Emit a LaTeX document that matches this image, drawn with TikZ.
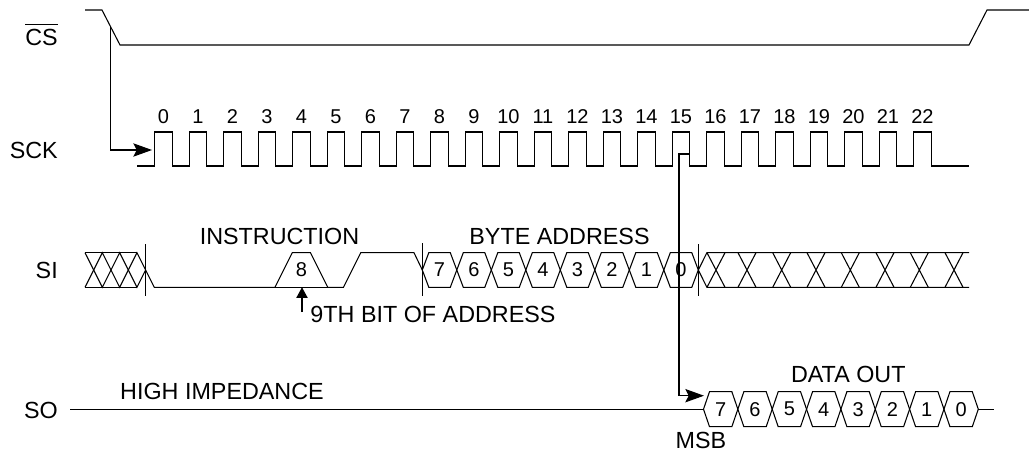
\documentclass[tikz,border=0pt]{standalone}
\usepackage{fontspec}
\setmainfont{Liberation Sans}
\usetikzlibrary{arrows.meta}
\tikzset{
  sig/.style={line width=0.8pt, line join=miter},
  lbl/.style={inner sep=0pt, font=\fontsize{17.5}{20}\selectfont},
  num/.style={inner sep=0pt, font=\fontsize{15}{18}\selectfont},
  bigtip/.style={-{Stealth[length=14pt,width=10pt,inset=2.5pt]}},
  smalltip/.style={-{Triangle[length=8pt,width=8.5pt]}},
}
\def\siT{252.7}
\def\siB{287.3}
\def\siM{270}
\def\soT{391.7}
\def\soB{426.7}
\def\soM{409.2}
\begin{document}
\begin{tikzpicture}[x=0.75pt,y=-0.75pt]
\useasboundingbox (0,0) rectangle (1029,453);

% ---------- signal labels ----------
\node[lbl, anchor=east] (cs)  at (58,37)  {CS};
\draw[line width=0.8pt] ([yshift=2.7pt]cs.north west) -- ([yshift=2.7pt]cs.north east);
\node[lbl, anchor=east] (sck) at (58,150) {SCK};
\node[lbl, anchor=east] (si)  at (58,270) {SI};
\node[lbl, anchor=east] (so)  at (58,410) {SO};

% ---------- CS ----------
\draw[sig] (85,10) -- (102,10) -- (120,45) -- (969,45) -- (987,10) -- (1029,10);

% ---------- SCK ----------
\draw[sig] (137,166)
  \foreach \k in {0,...,22}{
    -- ({154.8+34.5*\k},166) -- ({154.8+34.5*\k},132)
    -- ({172.05+34.5*\k},132) -- ({172.05+34.5*\k},166)
  } -- (969,166);
\foreach \k in {0,...,22}
  \node[num] (n\k) at ({163.4+34.5*\k},117) {\k};

% CS -> SCK arrow
\coordinate (csfall) at (110.2,26);
\coordinate (sckin) at (152,150);
\draw[sig, bigtip] (csfall) |- (sckin);

% ---------- SI ----------
% left don't-care hatch
\draw[sig] (85,\siT) -- (136.95,\siT);
\draw[sig] (85,\siB) -- (136.95,\siB);
\draw[sig] (85,\siT) -- (102.35,\siB) -- (119.65,\siT) -- (136.95,\siB) -- (145.6,\siM);
\draw[sig] (85,\siB) -- (102.35,\siT) -- (119.65,\siB) -- (136.95,\siT) -- (145.6,\siM);
% instruction bits
\draw[sig] (145.6,\siM) -- (154.25,\siB) -- (275,\siB) -- (292.3,\siT) -- (310.5,\siT)
  -- (327.8,\siB) -- (343.5,\siB) -- (360.8,\siT) -- (414,\siT) -- (422.3,\siM);
\draw[sig] (275,\siB) -- (327.8,\siB);
\node[num] (b8) at (301.4,\siM) {8};
% vertical markers
\draw[sig] (145.6,244) -- (145.6,296);
\draw[sig] (422.3,243) -- (422.3,296);
\draw[sig] (698.3,244) -- (698.3,296);
% address bits
\foreach \d [count=\i from 0] in {7,6,5,4,3,2,1,0}{
  \pgfmathsetmacro\xa{422.3+34.5*\i}
  \pgfmathsetmacro\xb{\xa+34.5}
  \draw[sig] (\xa,\siM) -- ({\xa+6.5},\siT) -- ({\xb-6.5},\siT) -- (\xb,\siM)
    -- ({\xb-6.5},\siB) -- ({\xa+6.5},\siB) -- cycle;
  \node[num] (si\d) at ({(\xa+\xb)/2},\siM) {\d};
}
% right don't-care hatch
\draw[sig] (698.3,\siM) -- (706.9,\siT) -- (969,\siT);
\draw[sig] (698.3,\siM) -- (706.9,\siB) -- (969,\siB);
\foreach \c in {716,747,781.7,816,850.3,885,919.3,954}
  \draw[sig] ({\c-9},\siT) -- ({\c+9},\siB) ({\c-9},\siB) -- ({\c+9},\siT);

\node[lbl] (instr) at (279.5,236) {INSTRUCTION};
\node[lbl] (byteaddr) at (559.5,236) {BYTE ADDRESS};
\node[lbl] (ninth) at (433,314) {9TH BIT OF ADDRESS};
\coordinate (ninthfoot) at (302,312);
\coordinate (ninthtip) at (302,\siB);
\draw[sig, smalltip] (ninthfoot) -- (ninthtip);

% ---------- SO ----------
\draw[sig] (70,\soM) -- (703.5,\soM);
\foreach \d [count=\i from 0] in {7,6,5,4,3,2,1,0}{
  \pgfmathsetmacro\xa{703.5+34.35*\i}
  \pgfmathsetmacro\xb{\xa+34.35}
  \draw[sig] (\xa,\soM) -- ({\xa+6},\soT) -- ({\xb-6},\soT) -- (\xb,\soM)
    -- ({\xb-6},\soB) -- ({\xa+6},\soB) -- cycle;
  \node[num] (so\d) at ({(\xa+\xb)/2},\soM) {\d};
}
\draw[sig] (978.3,\soM) -- (994,\soM);
\node[lbl] (hiz) at (222,391) {HIGH IMPEDANCE};
\node[lbl] (dout) at (848.3,374) {DATA OUT};
\node[lbl] (msb) at (701,440.5) {MSB};

% SCK 15 -> SO arrow
\coordinate (ck15) at (689.55,154);
\coordinate (soin) at (704,395.7);
\draw[sig, bigtip] (ck15) -- (679,154) |- (soin);
\end{tikzpicture}
\end{document}
